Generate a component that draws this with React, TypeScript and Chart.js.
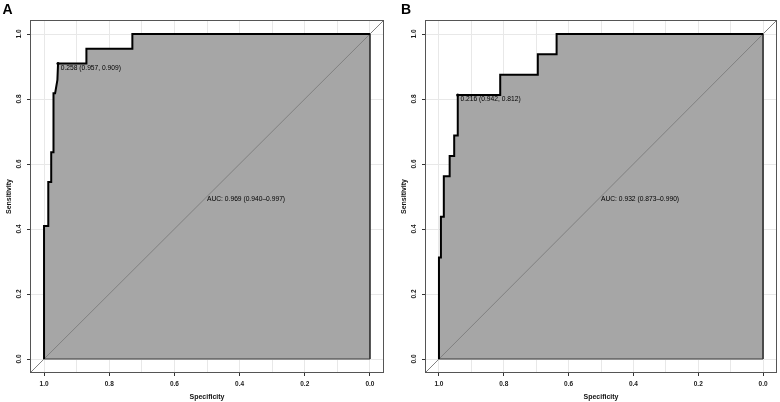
import { useEffect, useRef } from 'react';
import { Chart, registerables } from 'chart.js';

Chart.register(...registerables);

// Panel A: ROC curve, specificity / sensitivity pairs in drawing order
const specA = [1, 1, 0.987, 0.987, 0.978, 0.978, 0.971, 0.971, 0.966, 0.959, 0.957, 0.87, 0.87, 0.729, 0.729, 0];
const sensA = [0, 0.409, 0.409, 0.545, 0.545, 0.636, 0.636, 0.818, 0.818, 0.859, 0.909, 0.909, 0.955, 0.955, 1, 1];
// best threshold: [cut-off, specificity, sensitivity]
const thresholdA = [0.258, 0.957, 0.909];
// AUC with 95% CI: [auc, lower, upper]
const aucA = [0.969, 0.94, 0.997];

// Panel B
const specB = [1, 1, 0.994, 0.994, 0.985, 0.985, 0.967, 0.967, 0.953, 0.953, 0.942, 0.942, 0.811, 0.811, 0.695, 0.695, 0.637, 0.637, 0];
const sensB = [0, 0.312, 0.312, 0.438, 0.438, 0.562, 0.562, 0.625, 0.625, 0.688, 0.688, 0.812, 0.812, 0.875, 0.875, 0.938, 0.938, 1, 1];
const thresholdB = [0.216, 0.942, 0.812];
const aucB = [0.932, 0.873, 0.99];

// Axis ticks and grid
const tickValues = [0, 0.2, 0.4, 0.6, 0.8, 1.0];
const vGridValues = [0, 0.1, 0.2, 0.3, 0.4, 0.5, 0.6, 0.7, 0.8, 0.9, 1.0];
const aucLabelPos = [0.5, 0.5];
const axisMin = -0.04;
const axisMax = 1.04;

const FONT = '"Liberation Sans", Arial, Helvetica, sans-serif';

const isMajor = (v: number) => tickValues.some((t) => Math.abs(t - v) < 1e-9);

const rocOverlay = {
  id: 'rocOverlay',
  afterDatasetsDraw(chart: any, _args: any, opts: any) {
    const { ctx, scales } = chart;
    const xs = scales.x;
    const ys = scales.y;
    ctx.save();
    ctx.fillStyle = '#000';
    ctx.font = `6.7px ${FONT}`;
    ctx.textAlign = 'left';
    ctx.textBaseline = 'middle';
    const [cut, ts, tv] = opts.threshold;
    ctx.fillText(
      `${cut.toFixed(3)} (${ts.toFixed(3)}, ${tv.toFixed(3)})`,
      xs.getPixelForValue(ts) + 2.7,
      ys.getPixelForValue(tv) + 4.4
    );
    const [auc, lo, hi] = opts.auc;
    ctx.fillText(
      `AUC: ${auc.toFixed(3)} (${lo.toFixed(3)}\u2013${hi.toFixed(3)})`,
      xs.getPixelForValue(aucLabelPos[0]),
      ys.getPixelForValue(aucLabelPos[1]) + 2.5
    );
    ctx.restore();
  },
  afterDraw(chart: any) {
    const { ctx, chartArea } = chart;
    ctx.save();
    ctx.strokeStyle = '#555';
    ctx.lineWidth = 1;
    ctx.strokeRect(
      chartArea.left - 0.5,
      chartArea.top - 0.5,
      chartArea.right - chartArea.left + 1,
      chartArea.bottom - chartArea.top + 1
    );
    ctx.restore();
  },
};

function RocPanel({
  spec,
  sens,
  threshold,
  auc,
  width,
  rightPad,
  left,
}: {
  spec: number[];
  sens: number[];
  threshold: number[];
  auc: number[];
  width: number;
  rightPad: number;
  left: number;
}) {
  const ref = useRef<HTMLCanvasElement | null>(null);

  useEffect(() => {
    if (!ref.current) return;
    const curve = spec.map((s, i) => ({ x: s, y: sens[i] }));
    const last = curve[curve.length - 1];
    // outline of the shaded area along the right edge and the baseline
    const areaEdge = [last, { x: last.x, y: 0 }, { x: curve[0].x, y: 0 }];
    const diagonal = [
      { x: axisMax, y: 1 - axisMax },
      { x: axisMin, y: 1 - axisMin },
    ];
    const tickFont = { family: FONT, size: 6.5, weight: 'bold' as const };
    const titleFont = { family: FONT, size: 7, weight: 'bold' as const };

    const chart = new Chart(ref.current, {
      type: 'line',
      data: {
        datasets: [
          {
            data: curve,
            fill: 'origin',
            backgroundColor: '#a6a6a6',
            borderColor: 'rgba(0,0,0,0)',
            borderWidth: 0,
            pointRadius: 0,
            order: 4,
          },
          {
            data: areaEdge,
            fill: false,
            borderColor: '#3a3a3a',
            borderWidth: 1,
            pointRadius: 0,
            order: 3,
          },
          {
            data: diagonal,
            fill: false,
            borderColor: '#808080',
            borderWidth: 1,
            pointRadius: 0,
            order: 2,
          },
          {
            data: curve,
            fill: false,
            borderColor: '#000',
            borderWidth: 2,
            pointRadius: 0,
            order: 1,
          },
          {
            data: [{ x: threshold[1], y: threshold[2] }],
            showLine: false,
            pointRadius: 1.6,
            pointBorderWidth: 0,
            pointBackgroundColor: '#000',
            order: 0,
          },
        ],
      },
      options: {
        responsive: false,
        animation: false,
        devicePixelRatio: 1,
        layout: { padding: { top: 21, right: rightPad, left: 0, bottom: 0 } },
        plugins: {
          legend: { display: false },
          tooltip: { enabled: false },
          rocOverlay: { threshold, auc },
        } as any,
        scales: {
          x: {
            type: 'linear',
            reverse: true,
            min: axisMin,
            max: axisMax,
            afterBuildTicks: (s: any) => {
              s.ticks = vGridValues.map((v) => ({ value: v }));
            },
            afterFit: (s: any) => {
              s.height = 30;
            },
            ticks: {
              autoSkip: false,
              padding: 4,
              color: '#1a1a1a',
              font: tickFont,
              maxRotation: 0,
              minRotation: 0,
              callback: (v: any) => (isMajor(Number(v)) ? Number(v).toFixed(1) : ''),
            },
            grid: {
              color: '#e8e8e8',
              lineWidth: 1,
              tickLength: 4,
              tickColor: (c: any) => (isMajor(c.tick.value) ? '#333' : 'rgba(0,0,0,0)'),
            },
            border: { display: false },
            title: {
              display: true,
              text: 'Specificity',
              color: '#111',
              font: titleFont,
              padding: { top: 0, bottom: 1 },
            },
          },
          y: {
            type: 'linear',
            min: axisMin,
            max: axisMax,
            afterBuildTicks: (s: any) => {
              s.ticks = tickValues.map((v) => ({ value: v }));
            },
            afterFit: (s: any) => {
              s.width = 31;
            },
            ticks: {
              autoSkip: false,
              padding: 3.5,
              color: '#1a1a1a',
              font: tickFont,
              minRotation: 90,
              maxRotation: 90,
              crossAlign: 'center',
              callback: (v: any) => Number(v).toFixed(1),
            },
            grid: {
              color: '#e8e8e8',
              lineWidth: 1,
              tickLength: 4,
              tickColor: '#333',
            },
            border: { display: false },
            title: {
              display: true,
              text: 'Sensitivity',
              color: '#111',
              font: titleFont,
              padding: { top: 5, bottom: 0 },
            },
          },
        },
      },
      plugins: [rocOverlay],
    } as any);

    return () => chart.destroy();
  }, [spec, sens, threshold, auc, rightPad]);

  return (
    <canvas
      ref={ref}
      width={width}
      height={402}
      style={{ position: 'absolute', left, top: 0, width, height: 402 }}
    />
  );
}

const letterStyle = {
  position: 'absolute' as const,
  top: 2,
  fontFamily: FONT,
  fontWeight: 'bold' as const,
  fontSize: 14,
  lineHeight: '14px',
  color: '#000',
};

export default function App() {
  return (
    <div
      style={{
        position: 'fixed',
        left: 0,
        top: 0,
        width: 780,
        height: 402,
        background: '#fff',
        overflow: 'hidden',
      }}
    >
      <RocPanel spec={specA} sens={sensA} threshold={thresholdA} auc={aucA} width={390} rightPad={7} left={0} />
      <RocPanel spec={specB} sens={sensB} threshold={thresholdB} auc={aucB} width={385} rightPad={2} left={395} />
      <div style={{ ...letterStyle, left: 2.5 }}>A</div>
      <div style={{ ...letterStyle, left: 401 }}>B</div>
    </div>
  );
}
